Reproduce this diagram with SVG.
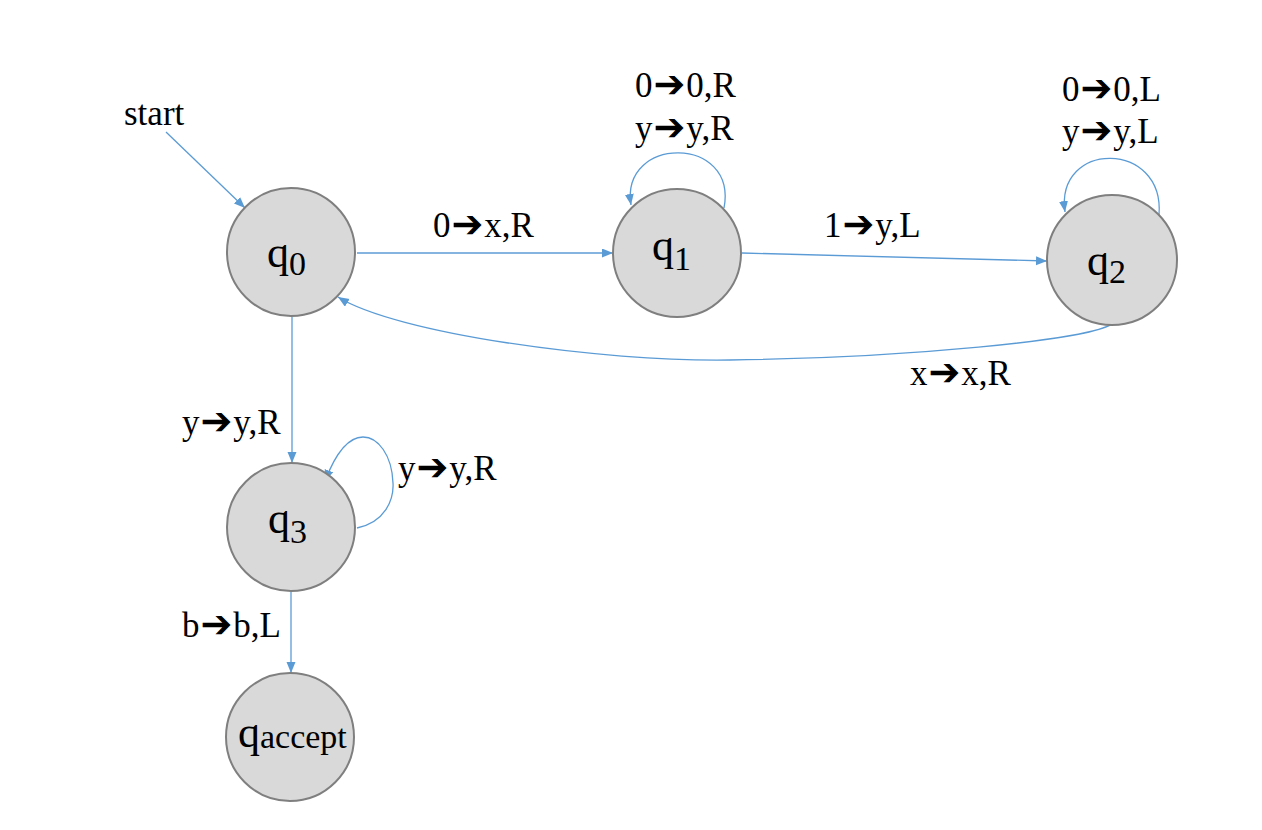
<svg xmlns="http://www.w3.org/2000/svg" width="1262" height="830" viewBox="0 0 1262 830">
<style>
.node circle{fill:#D9D9D9;stroke:#7F7F7F;stroke-width:2}
.nl{font-family:"Liberation Serif","Times New Roman",serif;font-size:44px;fill:#000}
.sub{font-family:"Liberation Serif","Times New Roman",serif;font-size:34px}
.lbl{font-family:"Liberation Serif","Times New Roman",serif;font-size:35px;fill:#000}
.ar{font-family:"DejaVu Sans",sans-serif;font-size:38px}
.edge{fill:none;stroke:#5B9BD5;stroke-width:1.3;marker-end:url(#ah)}
</style>
<defs>
<marker id="ah" markerUnits="userSpaceOnUse" markerWidth="12" markerHeight="10" refX="11" refY="4.5" orient="auto">
<path d="M0,0 L11,4.5 L0,9 z" fill="#5B9BD5"/>
</marker>
</defs>
<rect width="1262" height="830" fill="#fff"/>
<g id="connectors">
<path class="edge" d="M166,132 L245,208"/>
<path class="edge" d="M357,253 L613,253"/>
<path class="edge" d="M742,253 L1047,261"/>
<path class="edge" d="M292,317 L292,463"/>
<path class="edge" d="M291,592 L291,673"/>
<path class="edge" d="M1113,323 C1095,340 900,358 730,360 C600,362 395,333 338,297"/>
<path class="edge" d="M724,208 C738,135 620,135 631,205"/>
<path class="edge" d="M1159,215 C1165,140 1055,140 1065,212"/>
<path class="edge" d="M357,528 C385,522 394,500 393,483 C392,455 378,437 363,437 C347,437 335,455 325,481"/>
</g>
<g id="labels">
<text class="lbl" x="124" y="125">start</text>
<text class="lbl" x="433" y="237">0<tspan class="ar" dx="1">➔</tspan><tspan dx="1">x,R</tspan></text>
<text class="lbl" x="824" y="237">1<tspan class="ar" dx="1">➔</tspan><tspan dx="1">y,L</tspan></text>
<text class="lbl" x="635" y="97">0<tspan class="ar" dx="1">➔</tspan><tspan dx="1">0,R</tspan></text>
<text class="lbl" x="635" y="140">y<tspan class="ar" dx="1">➔</tspan><tspan dx="1">y,R</tspan></text>
<text class="lbl" x="1062" y="101">0<tspan class="ar" dx="1">➔</tspan><tspan dx="1">0,L</tspan></text>
<text class="lbl" x="1062" y="143">y<tspan class="ar" dx="1">➔</tspan><tspan dx="1">y,L</tspan></text>
<text class="lbl" x="910" y="385">x<tspan class="ar" dx="1">➔</tspan><tspan dx="1">x,R</tspan></text>
<text class="lbl" x="182" y="434">y<tspan class="ar" dx="1">➔</tspan><tspan dx="1">y,R</tspan></text>
<text class="lbl" x="398" y="480">y<tspan class="ar" dx="1">➔</tspan><tspan dx="1">y,R</tspan></text>
<text class="lbl" x="182" y="637">b<tspan class="ar" dx="1">➔</tspan><tspan dx="1">b,L</tspan></text>
</g>
<g id="q0" class="node"><circle cx="291" cy="252" r="64"/><text class="nl" x="267" y="267">q<tspan class="sub" dy="8">0</tspan></text></g>
<g id="q1" class="node"><circle cx="677" cy="253" r="64"/><text class="nl" x="652" y="260">q<tspan class="sub" dy="10">1</tspan></text></g>
<g id="q2" class="node"><circle cx="1112" cy="260" r="65"/><text class="nl" x="1087" y="275">q<tspan class="sub" dy="8">2</tspan></text></g>
<g id="q3" class="node"><circle cx="291" cy="527" r="64"/><text class="nl" x="268" y="533">q<tspan class="sub" dy="10">3</tspan></text></g>
<g id="qaccept" class="node"><circle cx="290" cy="737" r="64"/><text class="nl" x="238" y="747">q<tspan class="sub" dy="1">accept</tspan></text></g>
</svg>
